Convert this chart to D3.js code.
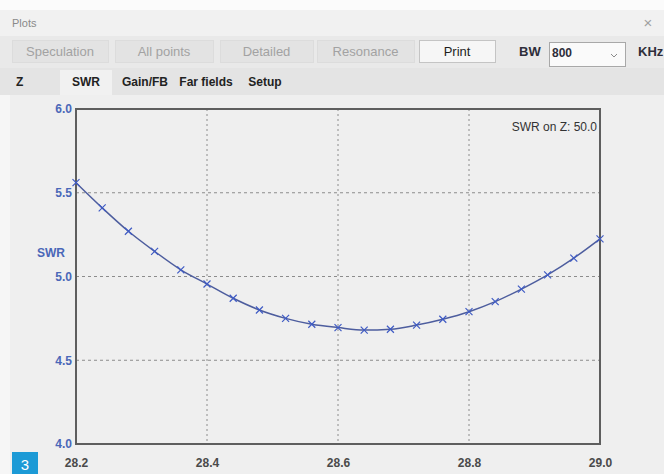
<!DOCTYPE html>
<html>
<head>
<meta charset="utf-8">
<script src="https://cdn.jsdelivr.net/npm/d3@7"></script>
<style>
  body { margin: 0; background: #efefef; }
  svg { display: block; font-family: "Liberation Sans", Arial, sans-serif; }
</style>
</head>
<body>
<div id="chart"></div>
<script>
// data
var freqs = [28.20, 28.24, 28.28, 28.32, 28.36, 28.40, 28.44, 28.48, 28.52, 28.56, 28.60,
             28.64, 28.68, 28.72, 28.76, 28.80, 28.84, 28.88, 28.92, 28.96, 29.00];
var swr = [5.56, 5.41, 5.27, 5.15, 5.04, 4.955, 4.87, 4.80, 4.75, 4.715, 4.695,
           4.68, 4.685, 4.71, 4.745, 4.79, 4.85, 4.925, 5.01, 5.11, 5.225];
var xTicks = [28.2, 28.4, 28.6, 28.8, 29.0];
var yTicks = [4.0, 4.5, 5.0, 5.5, 6.0];
var buttons = ['Speculation', 'All points', 'Detailed', 'Resonance', 'Print'];
var tabs = ['Z', 'SWR', 'Gain/FB', 'Far fields', 'Setup'];

var W = 664, H = 474;
var svg = d3.select('#chart').append('svg')
    .attr('width', W)
    .attr('height', H);

// window chrome
svg.append('rect').attr('x', 0).attr('y', 0).attr('width', W).attr('height', H).attr('fill', '#efefef');
svg.append('rect').attr('x', 0).attr('y', 0).attr('width', W).attr('height', 10).attr('fill', '#fbfbfb');
svg.append('rect').attr('x', 0).attr('y', 10).attr('width', W).attr('height', 26).attr('fill', '#f1f1f1');
svg.append('text').attr('x', 12).attr('y', 27).attr('font-size', 11).attr('fill', '#8a8a8a').text('Plots');
svg.append('text').attr('x', 648).attr('y', 28).attr('font-size', 15).attr('fill', '#a0a0a0')
    .attr('text-anchor', 'middle').text('\u00d7');

// toolbar
svg.append('rect').attr('x', 0).attr('y', 36).attr('width', W).attr('height', 32).attr('fill', '#e9e9e9');
var btnX = [12, 115, 220, 317, 419], btnW = [96, 98, 93, 97, 76];
buttons.forEach(function(b, i) {
    var active = b === 'Print';
    svg.append('rect')
        .attr('x', btnX[i] + 0.5).attr('y', 40.5)
        .attr('width', btnW[i]).attr('height', 22)
        .attr('fill', active ? '#f6f6f6' : '#e3e3e3')
        .attr('stroke', active ? '#c4c4c4' : '#dcdcdc');
    svg.append('text')
        .attr('x', btnX[i] + btnW[i] / 2).attr('y', 56)
        .attr('text-anchor', 'middle').attr('font-size', 13)
        .attr('fill', active ? '#1e1e1e' : '#a2a2a2')
        .text(b);
});
svg.append('text').attr('x', 519).attr('y', 56).attr('font-size', 13).attr('font-weight', 'bold')
    .attr('fill', '#2e2e3a').text('BW');
svg.append('rect').attr('x', 549.5).attr('y', 42.5).attr('width', 76).attr('height', 24)
    .attr('fill', '#fafafa').attr('stroke', '#a8a8a8');
svg.append('text').attr('x', 552).attr('y', 57).attr('font-size', 12).attr('font-weight', 'bold')
    .attr('fill', '#2e2e3a').text('800');
svg.append('path').attr('d', 'M611,54 L614,57 L617,54').attr('fill', 'none').attr('stroke', '#8a8a8a');
svg.append('text').attr('x', 638).attr('y', 56).attr('font-size', 13).attr('font-weight', 'bold')
    .attr('fill', '#2e2e3a').text('KHz');

// tab row
svg.append('rect').attr('x', 0).attr('y', 68).attr('width', W).attr('height', 27).attr('fill', '#e4e4e4');
var tabX = [10, 60, 116, 177, 244], tabW = [45, 52, 58, 58, 42];
tabs.forEach(function(t, i) {
    if (t === 'SWR') {
        svg.append('rect').attr('x', tabX[i]).attr('y', 70).attr('width', tabW[i]).attr('height', 25)
            .attr('fill', '#f1f1f1');
    }
    svg.append('text')
        .attr('x', t === 'Z' ? 16 : tabX[i] + tabW[i] / 2).attr('y', 86)
        .attr('text-anchor', t === 'Z' ? 'start' : 'middle')
        .attr('font-size', 12).attr('font-weight', 'bold').attr('fill', '#222')
        .text(t);
});
svg.append('rect').attr('x', 0).attr('y', 95).attr('width', 10).attr('height', H - 95).attr('fill', '#f6f6f6');

// plot
var margin = {top: 109, left: 76, right: 64, bottom: 30};
var pw = W - margin.left - margin.right, ph = H - margin.top - margin.bottom;

var xScale = d3.scaleLinear().domain([28.2, 29.0]).range([0, pw]);
var yScale = d3.scaleLinear().domain([4.0, 6.0]).range([ph, 0]);

var g = svg.append('g')
    .attr('transform', 'translate(' + margin.left + ',' + margin.top + ')');

// grid
g.selectAll('.vgrid')
    .data(xTicks.slice(1, -1))
    .enter().append('line')
    .attr('x1', function(d) { return xScale(d); })
    .attr('x2', function(d) { return xScale(d); })
    .attr('y1', 0).attr('y2', ph)
    .attr('stroke', '#8c8c8c').attr('stroke-dasharray', '2,3');
g.selectAll('.hgrid')
    .data(yTicks.slice(1, -1))
    .enter().append('line')
    .attr('x1', 0).attr('x2', pw)
    .attr('y1', function(d) { return yScale(d); })
    .attr('y2', function(d) { return yScale(d); })
    .attr('stroke', '#8c8c8c').attr('stroke-dasharray', '3,3');

// frame
g.append('rect').attr('x', 0).attr('y', 0).attr('width', pw).attr('height', ph)
    .attr('fill', 'none').attr('stroke', '#5e5e5e').attr('stroke-width', 2);

// axes
var xAxis = g.append('g')
    .attr('transform', 'translate(0,' + ph + ')')
    .call(d3.axisBottom(xScale).tickValues(xTicks).tickSize(0).tickPadding(14)
        .tickFormat(d3.format('.1f')));
xAxis.select('.domain').remove();
xAxis.selectAll('text').attr('font-size', 12).attr('font-weight', 'bold').attr('fill', '#4a4a4a')
    .attr('font-family', '"Liberation Sans Narrow", "Liberation Sans", Arial, sans-serif');

var yAxis = g.append('g')
    .call(d3.axisLeft(yScale).tickValues(yTicks).tickSize(0).tickPadding(4)
        .tickFormat(d3.format('.1f')));
yAxis.select('.domain').remove();
yAxis.selectAll('text').attr('font-size', 12).attr('font-weight', 'bold').attr('fill', '#4a67b8')
    .attr('font-family', '"Liberation Sans", Arial, sans-serif');

svg.append('text').attr('x', 51).attr('y', 257).attr('text-anchor', 'middle')
    .attr('font-size', 12).attr('font-weight', 'bold').attr('fill', '#4a67b8').text('SWR');

g.append('text').attr('x', pw - 3).attr('y', 22).attr('text-anchor', 'end')
    .attr('font-size', 12).attr('fill', '#333').text('SWR on Z: 50.0');

// curve
var pts = freqs.map(function(f, i) { return [f, swr[i]]; });
var line = d3.line()
    .x(function(d) { return xScale(d[0]); })
    .y(function(d) { return yScale(d[1]); })
    .curve(d3.curveMonotoneX);
g.append('path').datum(pts)
    .attr('d', line)
    .attr('fill', 'none').attr('stroke', '#4d5d9e').attr('stroke-width', 1.5);

g.selectAll('.mark')
    .data(pts)
    .enter().append('path')
    .attr('class', 'mark')
    .attr('d', function(d) {
        var x = xScale(d[0]), y = yScale(d[1]), s = 3.5;
        return 'M' + (x - s) + ',' + (y - s) + 'L' + (x + s) + ',' + (y + s) +
               'M' + (x - s) + ',' + (y + s) + 'L' + (x + s) + ',' + (y - s);
    })
    .attr('stroke', '#3f5bc4').attr('stroke-width', 1.2);

// figure badge
svg.append('rect').attr('x', 12).attr('y', 452).attr('width', 26).attr('height', 22).attr('fill', '#1c9ad6');
svg.append('text').attr('x', 25).attr('y', 470).attr('text-anchor', 'middle')
    .attr('font-size', 15).attr('fill', '#fff').text('3');
</script>
</body>
</html>
